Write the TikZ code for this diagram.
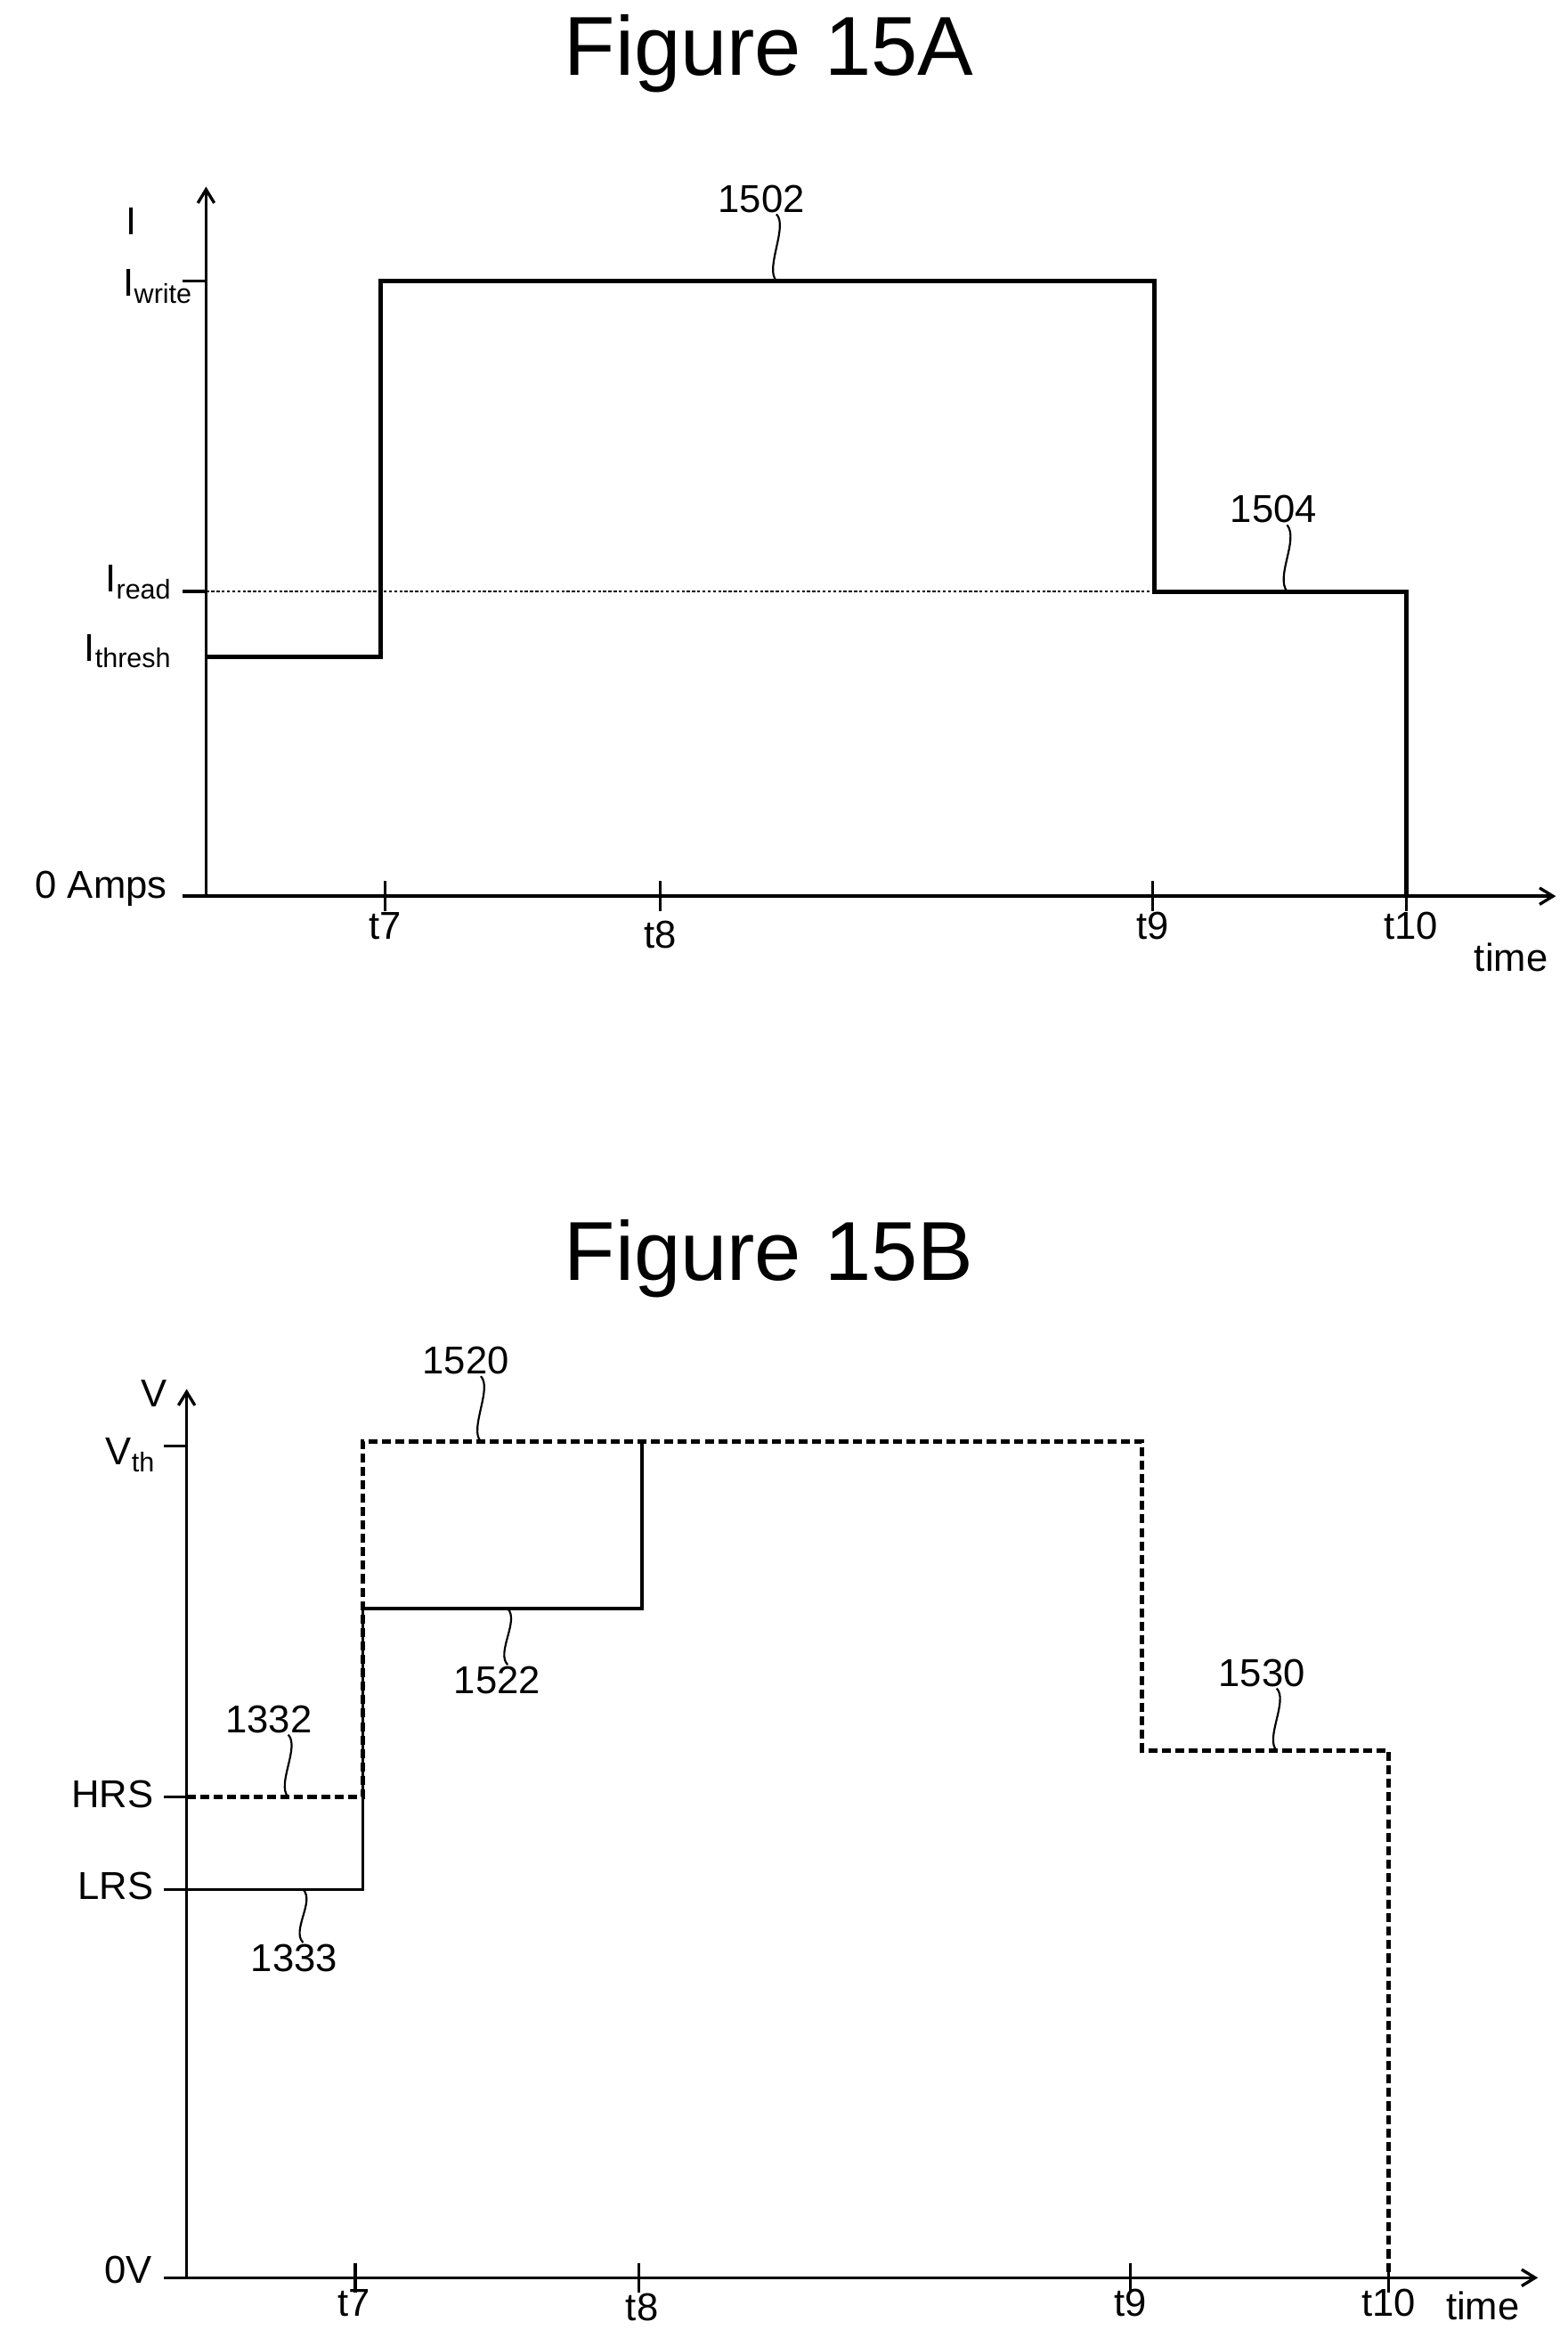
\documentclass[tikz,border=0pt]{standalone}
\usepackage{fontspec}
\setmainfont{Liberation Sans}
\usetikzlibrary{arrows.meta}
\begin{document}
\begin{tikzpicture}[x=1pt,y=-1pt,
  ax/.style={line width=2pt,-{Straight Barb[length=9pt,width=11pt]}},
  tk/.style={line width=2pt},
  lbl/.style={font=\fontsize{26}{28}\selectfont,inner sep=1pt},
  ttl/.style={font=\fontsize{56}{60}\selectfont},
  sig/.style={line width=3pt},
  sq/.style={line width=1.3pt}]
\useasboundingbox (0,0) rectangle (1050,1560);
% ---- Figure 15A
\node[ttl] (ta) at (515,36) {Figure 15A};
\draw[ax] (138,600) -- (138,125);
\draw[ax] (122,600) -- (1042,600);
\foreach \y in {188,396,600} \draw[tk] (122,\y) -- (138,\y);
\foreach \x in {258,442,772,942} \draw[tk] (\x,590) -- (\x,610);
\node[lbl] (I) at (88,148) {I};
\node[lbl,anchor=east] (iw) at (130,192) {I\textsubscript{write}};
\node[lbl,anchor=east] (ir) at (116,390) {I\textsubscript{read}};
\node[lbl,anchor=east] (ith) at (116,436) {I\textsubscript{thresh}};
\node[lbl,anchor=east] (za) at (113,595) {0 Amps};
\node[lbl] (a7) at (258,620) {t7};
\node[lbl] (a8) at (442,626) {t8};
\node[lbl] (a9) at (772,620) {t9};
\node[lbl] (a10) at (945,620) {t10};
\node[lbl] (at) at (1012,641) {time};
\draw[dash pattern=on 2pt off 1.5pt,line width=1pt] (138,396) -- (773,396);
\draw[sig] (138,440) -- (255,440) -- (255,188) -- (773,188) -- (773,396) -- (942,396) -- (942,600);
\node[lbl] (n1502) at (510,133) {1502};
\coordinate (p1502) at (520,188);
\draw[sq] (n1502.south -| p1502) .. controls +(8,8) and +(-8,-8) .. (p1502);
\node[lbl] (n1504) at (853,341) {1504};
\coordinate (p1504) at (862,396);
\draw[sq] (n1504.south -| p1504) .. controls +(8,10) and +(-8,-10) .. (p1504);
% ---- Figure 15B
\node[ttl] (tb) at (515,843) {Figure 15B};
\draw[ax] (125,1525) -- (125,930);
\draw[ax] (110,1525) -- (1030,1525);
\foreach \y in {968,1203,1265,1525} \draw[tk] (110,\y) -- (125,\y);
\foreach \x in {238,428,757,930} \draw[tk] (\x,1515) -- (\x,1535);
\node[lbl] (V) at (103,933) {V};
\node[lbl,anchor=east] (vth) at (105,974) {V\textsubscript{th}};
\node[lbl,anchor=east] (hrs) at (104,1201) {HRS};
\node[lbl,anchor=east] (lrs) at (104,1263) {LRS};
\node[lbl,anchor=east] (zv) at (103,1520) {0V};
\node[lbl] (b7) at (237,1542) {t7};
\node[lbl] (b8) at (430,1545) {t8};
\node[lbl] (b9) at (757,1542) {t9};
\node[lbl] (b10) at (930,1542) {t10};
\node[lbl] (bt) at (993,1544) {time};
\draw[sig,dash pattern=on 6pt off 3pt] (125,1203) -- (243,1203) -- (243,965) -- (765,965) -- (765,1172) -- (930,1172) -- (930,1525);
\draw[line width=2pt] (125,1265) -- (243,1265) -- (243,1077) -- (430,1077) -- (430,965);
\node[lbl] (n1520) at (312,911) {1520};
\coordinate (p1520) at (322,965);
\draw[sq] (n1520.south -| p1520) .. controls +(8,8) and +(-8,-8) .. (p1520);
\node[lbl] (n1522) at (333,1125) {1522};
\coordinate (p1522) at (340,1077);
\draw[sq] (n1522.north -| p1522) .. controls +(-8,-8) and +(8,8) .. (p1522);
\node[lbl] (n1332) at (180,1151) {1332};
\coordinate (p1332) at (193,1203);
\draw[sq] (n1332.south -| p1332) .. controls +(8,8) and +(-8,-8) .. (p1332);
\node[lbl] (n1333) at (197,1311) {1333};
\coordinate (p1333) at (203,1265);
\draw[sq] (n1333.north -| p1333) .. controls +(-8,-8) and +(8,8) .. (p1333);
\node[lbl] (n1530) at (845,1120) {1530};
\coordinate (p1530) at (855,1172);
\draw[sq] (n1530.south -| p1530) .. controls +(8,8) and +(-8,-8) .. (p1530);
\end{tikzpicture}
\end{document}
